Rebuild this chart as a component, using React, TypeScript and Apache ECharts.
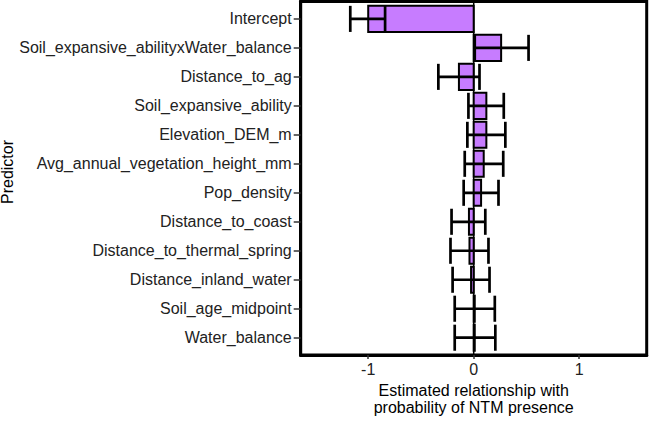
import React, { useEffect, useRef } from "react";
import * as echarts from "echarts";

const predictors = [
  "Intercept",
  "Soil_expansive_abilityxWater_balance",
  "Distance_to_ag",
  "Soil_expansive_ability",
  "Elevation_DEM_m",
  "Avg_annual_vegetation_height_mm",
  "Pop_density",
  "Distance_to_coast",
  "Distance_to_thermal_spring",
  "Distance_inland_water",
  "Soil_age_midpoint",
  "Water_balance",
];
const estimates = [-1.0, 0.26, -0.14, 0.12, 0.12, 0.095, 0.07, -0.045, -0.04, -0.025, 0.01, 0.01];
const lower = [-1.17, 0.01, -0.335, -0.05, -0.06, -0.085, -0.095, -0.21, -0.22, -0.2, -0.18, -0.18];
const upper = [-0.84, 0.52, 0.055, 0.285, 0.3, 0.28, 0.235, 0.11, 0.14, 0.15, 0.2, 0.205];
const xTicks = [-1, 0, 1];
const zeroLine = [
  [0, -0.6],
  [0, 11.6],
];
const xTitle = "Estimated relationship with\nprobability of NTM presence";
const yTitle = "Predictor";

const FONT = "Liberation Sans, Arial, Helvetica, sans-serif";

export default function App() {
  const ref = useRef<HTMLDivElement>(null);
  useEffect(() => {
    if (!ref.current) return;
    const chart = echarts.init(ref.current, undefined, { renderer: "svg" });
    const rows = predictors.map((_, i) => [i, estimates[i], lower[i], upper[i]]);
    const yIdx = predictors.map((_, i) => i);
    chart.setOption({
      animation: false,
      textStyle: { fontFamily: FONT },
      grid: {
        left: 300.7,
        right: 3.3,
        top: 1.5,
        bottom: 59,
        show: true,
        borderColor: "#000",
        borderWidth: 3,
        backgroundColor: "#fff",
      },
      xAxis: {
        type: "value",
        min: -1.64,
        max: 1.64,
        name: xTitle,
        nameLocation: "middle",
        nameGap: 24,
        nameTextStyle: { fontSize: 16, color: "#000", lineHeight: 17, fontFamily: FONT },
        axisLine: { show: true, onZero: false, lineStyle: { color: "#000", width: 3 } },
        axisTick: { show: true, customValues: xTicks, length: 4, lineStyle: { color: "#333", width: 1.5 } },
        axisLabel: {
          customValues: xTicks,
          formatter: (v: number) => String(v),
          fontSize: 16,
          color: "#222",
          margin: 6,
          fontFamily: FONT,
        },
        splitLine: { show: false },
      },
      yAxis: {
        type: "value",
        inverse: true,
        min: -0.6,
        max: 11.6,
        axisLine: { show: true, onZero: false, lineStyle: { color: "#000", width: 3 } },
        axisTick: { show: true, customValues: yIdx, length: 7, lineStyle: { color: "#333", width: 1.5 } },
        axisLabel: {
          customValues: yIdx,
          formatter: (v: number) => predictors[Math.round(v)] ?? "",
          fontSize: 16,
          color: "#222",
          margin: 9,
          fontFamily: FONT,
        },
        splitLine: { show: false },
      },
      graphic: [
        {
          type: "text",
          x: 7.5,
          y: 172,
          rotation: Math.PI / 2,
          style: {
            text: yTitle,
            fontSize: 16,
            fontFamily: FONT,
            fill: "#000",
            align: "center",
            verticalAlign: "middle",
          },
        },
      ],
      series: [
        {
          type: "line",
          data: zeroLine,
          symbol: "none",
          silent: true,
          lineStyle: { color: "#000", width: 1.5 },
          z: 1,
        },
        {
          type: "custom",
          data: rows,
          z: 2,
          encode: { x: [1, 2, 3], y: 0 },
          renderItem: (params: any, api: any) => {
            const idx = api.value(0);
            const est = api.value(1);
            const lo = api.value(2);
            const hi = api.value(3);
            const p0 = api.coord([0, idx]);
            const pe = api.coord([est, idx]);
            const pl = api.coord([lo, idx]);
            const ph = api.coord([hi, idx]);
            const h = Math.abs(api.size([0, 0.9])[1]);
            const y = p0[1];
            const err = { stroke: "#000", lineWidth: 2.7 };
            return {
              type: "group",
              children: [
                {
                  type: "rect",
                  shape: { x: Math.min(p0[0], pe[0]), y: y - h / 2, width: Math.abs(pe[0] - p0[0]), height: h },
                  style: { fill: "#C77CFF", stroke: "#000", lineWidth: 2 },
                },
                { type: "line", shape: { x1: pl[0], y1: y, x2: ph[0], y2: y }, style: err },
                { type: "line", shape: { x1: pl[0], y1: y - h / 2, x2: pl[0], y2: y + h / 2 }, style: err },
                { type: "line", shape: { x1: ph[0], y1: y - h / 2, x2: ph[0], y2: y + h / 2 }, style: err },
              ],
            };
          },
        },
      ],
    });
    return () => chart.dispose();
  }, []);
  return (
    <div
      ref={ref}
      style={{ position: "fixed", left: 0, top: 0, width: 650, height: 421, background: "#fff" }}
    />
  );
}
